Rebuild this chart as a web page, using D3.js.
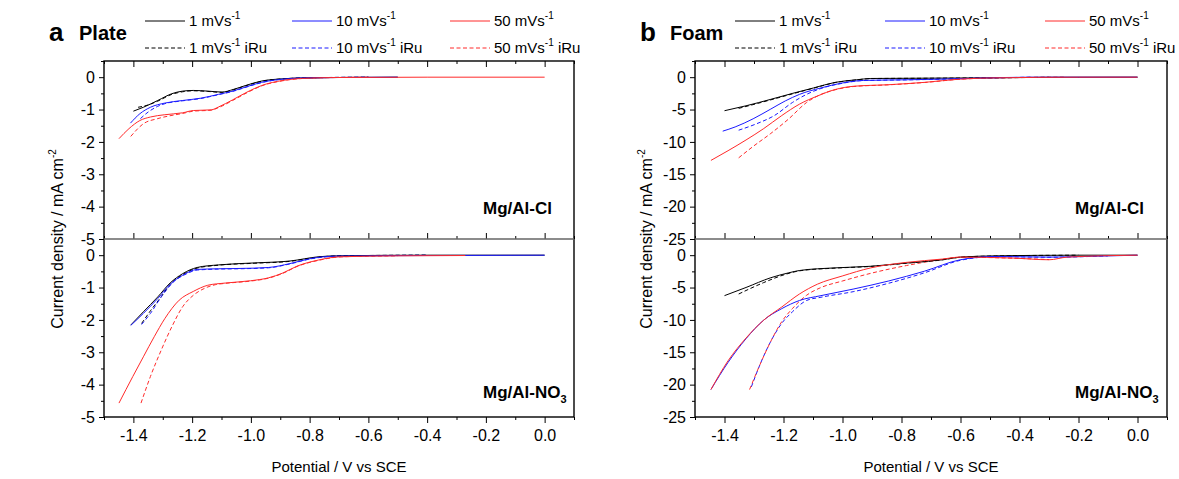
<!DOCTYPE html>
<html lang="en">
<head>
<meta charset="UTF-8">
<title>LSV Plate / Foam</title>
<script src="https://cdn.jsdelivr.net/npm/d3@7"></script>
<style>
    body { margin: 0; background: #fff; }
    text { font-family: Arial, "Liberation Sans", sans-serif; fill: #000; }
</style>
</head>
<body>
<svg id="chart" width="1179" height="479"></svg>
<script>
// ---- data: [potential V vs SCE, current density mA cm-2] ----
const plateCl_1     = [[-1.40,-1.05],[-1.366,-0.93],[-1.317,-0.72],[-1.269,-0.51],[-1.232,-0.43],[-1.196,-0.41],[-1.147,-0.43],[-1.098,-0.46],[-1.06,-0.38],[-1.019,-0.26],[-0.964,-0.12],[-0.891,-0.05],[-0.818,-0.02],[-0.70,-0.01],[-0.50,0]];
const plateCl_1i    = [[-1.384,-0.93],[-1.35,-0.86],[-1.317,-0.74],[-1.269,-0.53],[-1.232,-0.45],[-1.196,-0.42],[-1.147,-0.44],[-1.098,-0.47],[-1.06,-0.39],[-1.019,-0.27],[-0.964,-0.13],[-0.891,-0.05],[-0.80,-0.02],[-0.60,0]];
const plateCl_10    = [[-1.41,-1.42],[-1.378,-1.13],[-1.342,-0.93],[-1.293,-0.80],[-1.232,-0.72],[-1.171,-0.65],[-1.110,-0.53],[-1.062,-0.43],[-1.013,-0.29],[-0.964,-0.16],[-0.891,-0.06],[-0.806,-0.02],[-0.70,-0.01],[-0.50,0]];
const plateCl_10i   = [[-1.376,-1.28],[-1.35,-1.08],[-1.317,-0.90],[-1.293,-0.82],[-1.232,-0.73],[-1.171,-0.66],[-1.110,-0.54],[-1.062,-0.44],[-1.013,-0.30],[-0.964,-0.17],[-0.891,-0.06],[-0.80,-0.02],[-0.60,0]];
const plateCl_50    = [[-1.449,-1.90],[-1.415,-1.59],[-1.378,-1.34],[-1.342,-1.23],[-1.293,-1.16],[-1.232,-1.10],[-1.196,-1.03],[-1.135,-1.01],[-1.110,-0.92],[-1.062,-0.70],[-1.013,-0.46],[-0.964,-0.26],[-0.891,-0.10],[-0.806,-0.03],[-0.71,-0.01],[-0.40,0],[0.0,0]];
const plateCl_50i   = [[-1.409,-1.83],[-1.366,-1.44],[-1.317,-1.28],[-1.28,-1.20],[-1.232,-1.12],[-1.196,-1.05],[-1.135,-1.02],[-1.110,-0.94],[-1.062,-0.72],[-1.013,-0.48],[-0.964,-0.27],[-0.891,-0.11],[-0.80,-0.03],[-0.60,0]];

const plateNO3_1    = [[-1.409,-2.16],[-1.366,-1.75],[-1.317,-1.29],[-1.275,-0.86],[-1.232,-0.57],[-1.183,-0.38],[-1.110,-0.30],[-0.989,-0.24],[-0.867,-0.18],[-0.77,-0.05],[-0.709,-0.02],[-0.40,0],[0.0,0]];
const plateNO3_1i   = [[-1.372,-2.11],[-1.342,-1.72],[-1.305,-1.28],[-1.275,-0.90],[-1.232,-0.60],[-1.183,-0.40],[-1.110,-0.31],[-0.989,-0.25],[-0.867,-0.19],[-0.77,-0.06],[-0.70,-0.02],[-0.40,0]];
const plateNO3_10   = [[-1.409,-2.17],[-1.366,-1.80],[-1.317,-1.34],[-1.275,-0.90],[-1.232,-0.62],[-1.183,-0.44],[-1.110,-0.42],[-1.037,-0.41],[-0.94,-0.38],[-0.867,-0.26],[-0.794,-0.10],[-0.709,-0.03],[-0.40,-0.01],[0.0,0]];
const plateNO3_10i  = [[-1.372,-2.14],[-1.342,-1.80],[-1.305,-1.29],[-1.26,-0.80],[-1.22,-0.58],[-1.183,-0.46],[-1.110,-0.43],[-1.037,-0.42],[-0.94,-0.39],[-0.867,-0.27],[-0.794,-0.11],[-0.70,-0.03],[-0.40,0]];
const plateNO3_50   = [[-1.449,-4.57],[-1.402,-3.75],[-1.366,-3.14],[-1.329,-2.52],[-1.293,-1.96],[-1.244,-1.39],[-1.196,-1.12],[-1.147,-0.93],[-1.086,-0.86],[-1.001,-0.79],[-0.94,-0.70],[-0.891,-0.55],[-0.843,-0.34],[-0.77,-0.15],[-0.697,-0.05],[-0.50,-0.02],[-0.27,-0.01]];
const plateNO3_50i  = [[-1.374,-4.57],[-1.342,-3.75],[-1.305,-2.93],[-1.269,-2.21],[-1.232,-1.59],[-1.196,-1.24],[-1.159,-1.03],[-1.12,-0.91],[-1.086,-0.87],[-1.001,-0.80],[-0.94,-0.71],[-0.891,-0.56],[-0.843,-0.35],[-0.77,-0.16],[-0.69,-0.05],[-0.50,-0.02]];

const foamCl_1      = [[-1.40,-5.18],[-1.327,-4.42],[-1.243,-3.42],[-1.170,-2.51],[-1.098,-1.66],[-1.025,-0.80],[-0.952,-0.40],[-0.904,-0.20],[-0.70,-0.15],[-0.50,-0.10],[-0.30,-0.02],[0.0,0]];
const foamCl_1i     = [[-1.352,-4.82],[-1.30,-4.20],[-1.243,-3.50],[-1.170,-2.58],[-1.098,-1.70],[-1.025,-0.84],[-0.952,-0.42],[-0.90,-0.21],[-0.70,-0.16],[-0.50,-0.10],[-0.30,-0.02]];
const foamCl_10     = [[-1.406,-8.34],[-1.364,-7.69],[-1.303,-6.43],[-1.243,-4.92],[-1.194,-3.67],[-1.146,-2.66],[-1.073,-1.66],[-1.001,-0.90],[-0.928,-0.50],[-0.783,-0.40],[-0.662,-0.30],[-0.541,-0.15],[-0.36,0],[0.0,0]];
const foamCl_10i    = [[-1.352,-8.19],[-1.291,-7.19],[-1.231,-5.93],[-1.170,-3.92],[-1.122,-2.66],[-1.073,-1.75],[-1.001,-0.95],[-0.928,-0.52],[-0.783,-0.42],[-0.662,-0.31],[-0.541,-0.16],[-0.36,0]];
const foamCl_50     = [[-1.446,-12.86],[-1.388,-11.36],[-1.327,-9.70],[-1.267,-7.94],[-1.206,-5.93],[-1.146,-4.17],[-1.085,-2.91],[-1.025,-1.91],[-0.964,-1.41],[-0.843,-1.16],[-0.722,-0.80],[-0.601,-0.30],[-0.48,-0.10],[-0.20,0],[0.0,0]];
const foamCl_50i    = [[-1.352,-12.46],[-1.303,-10.70],[-1.243,-8.69],[-1.182,-6.43],[-1.122,-3.92],[-1.073,-2.66],[-1.025,-1.95],[-0.964,-1.45],[-0.843,-1.18],[-0.722,-0.82],[-0.601,-0.32],[-0.48,-0.10],[-0.25,0]];

const foamNO3_1     = [[-1.40,-6.25],[-1.327,-4.99],[-1.243,-3.48],[-1.182,-2.72],[-1.146,-2.37],[-1.025,-1.96],[-0.904,-1.71],[-0.783,-1.21],[-0.662,-0.71],[-0.601,-0.30],[-0.48,-0.10],[-0.20,0],[0.0,0]];
const foamNO3_1i    = [[-1.352,-6.00],[-1.267,-4.23],[-1.194,-2.97],[-1.146,-2.42],[-1.025,-2.00],[-0.904,-1.74],[-0.783,-1.24],[-0.662,-0.73],[-0.601,-0.32],[-0.48,-0.12],[-0.20,0]];
const foamNO3_10    = [[-1.446,-20.76],[-1.388,-16.57],[-1.327,-12.90],[-1.267,-10.03],[-1.206,-8.26],[-1.146,-7.00],[-1.073,-6.25],[-0.964,-5.24],[-0.843,-3.98],[-0.722,-2.47],[-0.601,-0.71],[-0.48,-0.20],[-0.30,-0.30],[-0.178,-0.20],[0.0,0]];
const foamNO3_10i   = [[-1.309,-20.35],[-1.279,-16.83],[-1.243,-13.30],[-1.206,-10.53],[-1.170,-8.76],[-1.122,-7.00],[-1.073,-6.50],[-0.964,-5.64],[-0.843,-4.33],[-0.722,-2.72],[-0.601,-0.80],[-0.48,-0.22],[-0.30,-0.32],[-0.10,-0.10]];
const foamNO3_50    = [[-1.446,-20.76],[-1.388,-16.32],[-1.327,-12.80],[-1.267,-10.03],[-1.206,-8.01],[-1.146,-6.00],[-1.085,-4.48],[-1.001,-3.22],[-0.904,-1.96],[-0.783,-1.11],[-0.662,-0.60],[-0.601,-0.30],[-0.42,-0.45],[-0.30,-0.71],[-0.238,-0.30],[0.0,0]];
const foamNO3_50i   = [[-1.315,-20.76],[-1.279,-16.83],[-1.243,-13.30],[-1.206,-10.28],[-1.170,-8.26],[-1.122,-6.20],[-1.073,-5.00],[-1.001,-4.00],[-0.904,-2.80],[-0.783,-1.60],[-0.662,-0.65],[-0.601,-0.32],[-0.42,-0.47],[-0.30,-0.68]];

const xTicks = [-1.4, -1.2, -1.0, -0.8, -0.6, -0.4, -0.2, 0.0];
const xMinor = [-1.5, -1.3, -1.1, -0.9, -0.7, -0.5, -0.3, -0.1, 0.1];
const plateYTicks = [0, -1, -2, -3, -4, -5];
const foamYTicks = [0, -5, -10, -15, -20, -25];
const rates = ["1", "10", "50"];
const colors = ["#000000", "#1a1aff", "#ff2a2a"];

const svg = d3.select("#chart");

const panels = [
    { letter: "a", name: "Plate", x0: 104, x1: 574, lx: 49, ny: [-5, 0.5], yTicks: plateYTicks, yMinorStep: 0.5,
      legX: [145, 292, 450], labelX: 63, tagX: 483,
      top: { tag: "Mg/Al-Cl", sub: null, series: [plateCl_1, plateCl_10, plateCl_50], iru: [plateCl_1i, plateCl_10i, plateCl_50i] },
      bot: { tag: "Mg/Al-NO", sub: "3", series: [plateNO3_1, plateNO3_10, plateNO3_50], iru: [plateNO3_1i, plateNO3_10i, plateNO3_50i] } },
    { letter: "b", name: "Foam", x0: 695, x1: 1167, lx: 640, ny: [-25, 2.5], yTicks: foamYTicks, yMinorStep: 2.5,
      legX: [735, 885, 1045], labelX: 652, tagX: 1075,
      top: { tag: "Mg/Al-Cl", sub: null, series: [foamCl_1, foamCl_10, foamCl_50], iru: [foamCl_1i, foamCl_10i, foamCl_50i] },
      bot: { tag: "Mg/Al-NO", sub: "3", series: [foamNO3_1, foamNO3_10, foamNO3_50], iru: [foamNO3_1i, foamNO3_10i, foamNO3_50i] } }
];

const yTop = 61, yMid = 239, yBot = 417;
const FONT = "Arial, 'Liberation Sans', sans-serif";

panels.forEach(p => {
    const x = d3.scaleLinear().domain([-1.5, 0.1]).range([p.x0, p.x1]);
    const yA = d3.scaleLinear().domain(p.ny).range([yMid, yTop]);
    const yB = d3.scaleLinear().domain(p.ny).range([yBot, yMid]);
    const minorY = d3.range(p.ny[0], p.ny[1] + 0.001, p.yMinorStep).filter(v => !p.yTicks.includes(v));

    // curves
    [[p.top, yA, 214], [p.bot, yB, 398]].forEach(([sub, y, tagY]) => {
        const line = d3.line().x(d => x(d[0])).y(d => y(d[1])).curve(d3.curveMonotoneX);
        const g = svg.append("g");
        sub.iru.forEach((s, i) => {
            g.append("path").datum(s).attr("d", line).attr("fill", "none")
                .attr("stroke", colors[i]).attr("stroke-width", 1).attr("stroke-dasharray", "4,2.5");
        });
        sub.series.forEach((s, i) => {
            g.append("path").datum(s).attr("d", line).attr("fill", "none")
                .attr("stroke", colors[i]).attr("stroke-width", 1);
        });
        const t = svg.append("text").attr("x", p.tagX).attr("y", tagY)
            .attr("font-size", 17).attr("font-weight", "bold").text(sub.tag);
        if (sub.sub) t.append("tspan").attr("font-size", 11).attr("dy", 5).text(sub.sub);
    });

    // y axes (outward ticks)
    [yA, yB].forEach(y => {
        const gMaj = svg.append("g").attr("transform", `translate(${p.x0},0)`)
            .call(d3.axisLeft(y).tickValues(p.yTicks).tickSize(5).tickPadding(4).tickFormat(d => String(d)));
        const gMin = svg.append("g").attr("transform", `translate(${p.x0},0)`)
            .call(d3.axisLeft(y).tickValues(minorY).tickSize(3).tickFormat(""));
        [gMaj, gMin].forEach(g => { g.select(".domain").remove(); g.selectAll("line").attr("stroke", "#000"); });
        gMaj.selectAll("text").attr("font-size", 16).attr("font-family", FONT).attr("fill", "#000");
    });

    // x ticks: top frame & divider inward, bottom outward with labels
    const tickRow = (axisFn, yPos, size, vals, fmt) => {
        const g = svg.append("g").attr("transform", `translate(0,${yPos})`)
            .call(axisFn(x).tickValues(vals).tickSize(size).tickPadding(7).tickFormat(fmt));
        g.select(".domain").remove();
        g.selectAll("line").attr("stroke", "#000");
        return g;
    };
    tickRow(d3.axisBottom, yTop, 6, xTicks, "");
    tickRow(d3.axisBottom, yTop, 3, xMinor, "");
    tickRow(d3.axisTop, yMid, 6, xTicks, "");
    tickRow(d3.axisTop, yMid, 3, xMinor, "");
    const gx = tickRow(d3.axisBottom, yBot, 6, xTicks, d => d.toFixed(1));
    tickRow(d3.axisBottom, yBot, 3, xMinor, "");
    gx.selectAll("text").attr("font-size", 16).attr("font-family", FONT).attr("fill", "#000");

    // frame + divider
    svg.append("rect").attr("x", p.x0).attr("y", yTop).attr("width", p.x1 - p.x0).attr("height", yBot - yTop)
        .attr("fill", "none").attr("stroke", "#000").attr("stroke-width", 1.4);
    svg.append("line").attr("x1", p.x0).attr("x2", p.x1).attr("y1", yMid).attr("y2", yMid)
        .attr("stroke", "#666").attr("stroke-width", 1.4);

    // axis titles
    svg.append("text").attr("x", (p.x0 + p.x1) / 2).attr("y", 472).attr("text-anchor", "middle")
        .attr("font-size", 15).text("Potential / V vs SCE");
    const yl = svg.append("text").attr("transform", `translate(${p.labelX},${yMid}) rotate(-90)`)
        .attr("text-anchor", "middle").attr("font-size", 16).text("Current density / mA cm");
    yl.append("tspan").attr("font-size", 10).attr("dy", -7).text("-2");

    // panel letter + name
    svg.append("text").attr("x", p.lx).attr("y", 41).attr("font-size", 26).attr("font-weight", "bold").text(p.letter);
    svg.append("text").attr("x", p.lx + 30).attr("y", 40).attr("font-size", 20).attr("font-weight", "bold").text(p.name);

    // legend
    rates.forEach((r, i) => {
        [false, true].forEach((iru, row) => {
            const ly = row ? 48 : 21;
            svg.append("line").attr("x1", p.legX[i]).attr("x2", p.legX[i] + 40).attr("y1", ly).attr("y2", ly)
                .attr("stroke", colors[i]).attr("stroke-width", 1).attr("stroke-dasharray", iru ? "4,2.5" : null);
            const t = svg.append("text").attr("x", p.legX[i] + 44).attr("y", ly + 5).attr("font-size", 15).text(r + " mVs");
            t.append("tspan").attr("font-size", 10).attr("dy", -7).text("-1");
            if (iru) t.append("tspan").attr("dy", 7).text(" iRu");
        });
    });
});
</script>
</body>
</html>
